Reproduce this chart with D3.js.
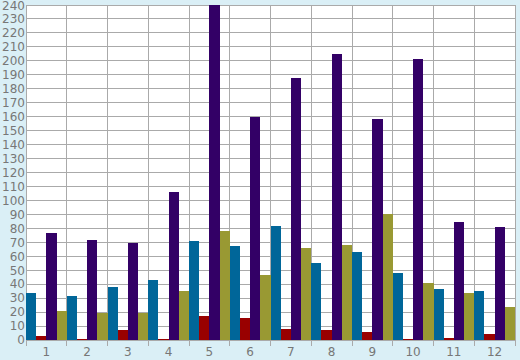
<!DOCTYPE html>
<html>
<head>
<meta charset="utf-8">
<script src="https://cdn.jsdelivr.net/npm/d3@7"></script>
<style>
  html, body { margin: 0; padding: 0; background: #daeff6; }
  svg { display: block; }
  text { font-family: "DejaVu Sans", Verdana, sans-serif; font-size: 12px; fill: #777; }
</style>
</head>
<body>
<svg id="chart"></svg>
<script>
// chart values
var categories = ["1", "2", "3", "4", "5", "6", "7", "8", "9", "10", "11", "12"];
var seriesNames = ["teal", "red", "purple", "olive"];
var tealValues   = [34, 31.5, 38, 43, 71, 67, 82, 55, 63, 48, 36.5, 35];
var redValues    = [3, 1, 7, 1, 17, 16, 8, 7, 6, 1, 1.5, 4.5];
var purpleValues = [77, 71.5, 69.5, 106, 240, 160, 188, 205, 158, 201, 84.5, 81];
var oliveValues  = [21, 19.5, 19.5, 35, 78, 46.5, 66, 68, 90, 41, 33.5, 23.5];
var yTicks = d3.range(0, 241, 10);

var width = 520;
var height = 360;
var margin = {top: 5, right: 5, bottom: 20, left: 26};

var colors = {teal: "#006699", red: "#990000", purple: "#330066", olive: "#999933"};
var allSeries = [tealValues, redValues, purpleValues, oliveValues];

var svg = d3.select("#chart").attr("width", width).attr("height", height);

var x = d3.scaleBand().domain(categories)
  .range([margin.left, width - margin.right]).padding(0);
var xInner = d3.scaleBand().domain(seriesNames)
  .range([0, x.bandwidth()]).padding(0);
var y = d3.scaleLinear().domain([0, 240])
  .range([height - margin.bottom, margin.top]);

// plot background
svg.append("rect")
  .attr("x", margin.left).attr("y", margin.top)
  .attr("width", width - margin.left - margin.right)
  .attr("height", height - margin.top - margin.bottom)
  .attr("fill", "#fff");

// grid
var grid = svg.append("g").attr("stroke", "#aaa").attr("shape-rendering", "crispEdges");
grid.selectAll("line.h").data(yTicks).join("line").attr("class", "h")
  .attr("x1", margin.left).attr("x2", width - margin.right)
  .attr("y1", d => y(d)).attr("y2", d => y(d));

var bounds = categories.map(c => x(c)).concat([x.range()[1]]);
grid.selectAll("line.v").data(bounds).join("line").attr("class", "v")
  .attr("x1", d => d).attr("x2", d => d)
  .attr("y1", margin.top).attr("y2", height - margin.bottom + 6);

// bars
var data = [];
categories.forEach(function (c, i) {
  seriesNames.forEach(function (s, j) {
    data.push({cat: c, series: s, value: allSeries[j][i]});
  });
});

svg.append("g").attr("shape-rendering", "crispEdges")
  .selectAll("rect").data(data).join("rect")
  .attr("x", d => x(d.cat) + xInner(d.series))
  .attr("width", xInner.bandwidth())
  .attr("y", d => y(d.value))
  .attr("height", d => y(0) - y(d.value))
  .attr("fill", d => colors[d.series]);

// y labels (top one nudged so it stays inside the page)
svg.append("g").selectAll("text").data(yTicks).join("text")
  .attr("x", margin.left - 1)
  .attr("y", d => Math.max(y(d), 6))
  .attr("dy", "0.36em")
  .attr("text-anchor", "end")
  .text(d => d);

// x labels
svg.append("g").selectAll("text").data(categories).join("text")
  .attr("x", d => x(d) + x.bandwidth() / 2)
  .attr("y", height - margin.bottom + 12)
  .attr("dy", "0.36em")
  .attr("text-anchor", "middle")
  .text(d => d);
</script>
</body>
</html>
